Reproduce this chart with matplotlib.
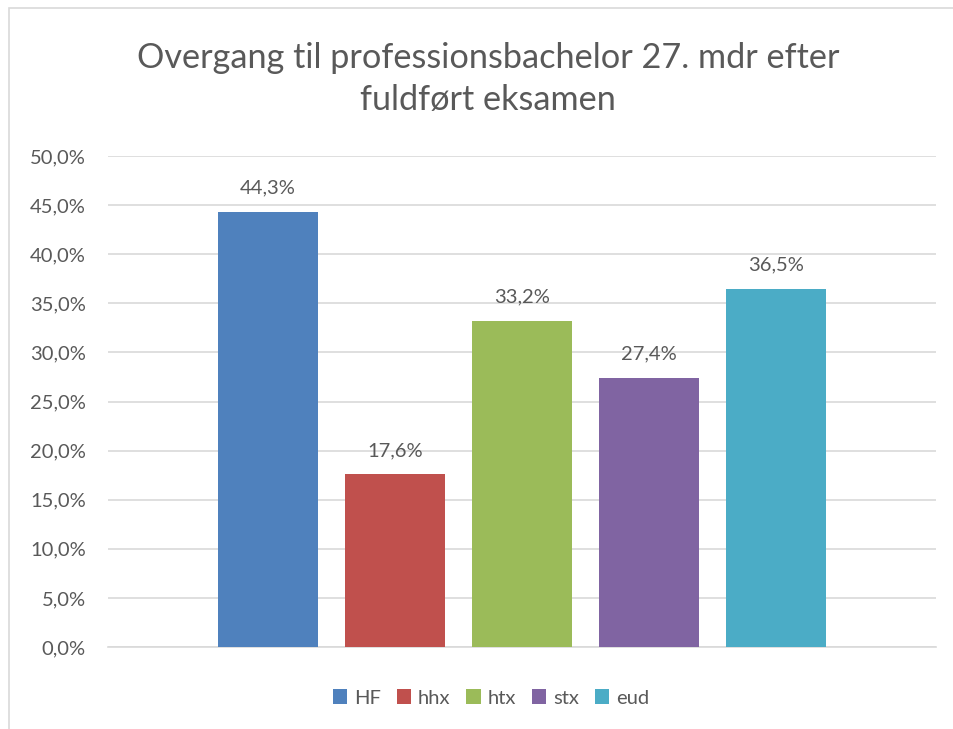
import matplotlib
matplotlib.use("Agg")
import matplotlib.pyplot as plt
from matplotlib.patches import Patch, Rectangle

# Data
categories = ["HF", "hhx", "htx", "stx", "eud"]
values = [44.3, 17.6, 33.2, 27.4, 36.5]
colors = ["#4F81BD", "#C0504D", "#9BBB59", "#8064A2", "#4BACC6"]
yticks = [0, 5, 10, 15, 20, 25, 30, 35, 40, 45, 50]

TEXT = "#595959"
plt.rcParams["font.family"] = ["Lato", "DejaVu Sans"]

W, H = 954, 729
fig = plt.figure(figsize=(W / 100, H / 100), dpi=100)
ax = fig.add_axes([108 / W, (H - 647) / H, (936 - 108) / W, (647 - 156) / H])

x = list(range(len(categories)))
ax.bar(x, values, width=0.795, color=colors, zorder=3)
for xi, v in zip(x, values):
    ax.annotate(f"{v:.1f}%".replace(".", ","), (xi, v), xytext=(0, 11),
                textcoords="offset points", ha="center", va="bottom",
                fontsize=14.5, color=TEXT)

ax.set_xlim(-1.26, 5.26)
ax.set_ylim(0, 50)
ax.set_yticks(yticks)
ax.set_yticklabels([f"{t:.1f}%".replace(".", ",") for t in yticks],
                   fontsize=14.5, color=TEXT)
ax.set_xticks([])
ax.tick_params(axis="y", length=0, pad=16)
ax.grid(axis="y", color="#D9D9D9", linewidth=1.2, zorder=0)
for s in ["top", "right", "left"]:
    ax.spines[s].set_visible(False)
ax.spines["bottom"].set_color("#D9D9D9")
ax.spines["bottom"].set_linewidth(1.2)

fig.text(488 / W, 1 - 79 / H, "Overgang til professionsbachelor 27. mdr efter\nfuldført eksamen",
         ha="center", va="center", fontsize=24.7, color=TEXT, linespacing=1.4)

handles = [Patch(facecolor=c) for c in colors]
fig.legend(handles, categories, loc="center", bbox_to_anchor=(491 / W, 1 - 698 / H),
           ncol=5, frameon=False, fontsize=14.5, labelcolor=TEXT,
           handlelength=0.7, handleheight=0.7, handletextpad=0.35, columnspacing=0.8)

# chart border (top and left visible, rest cropped)
fig.patches.append(Rectangle((9 / W, -0.1), 1.2, (H - 8) / H + 0.1,
                             transform=fig.transFigure, fill=False,
                             edgecolor="#D9D9D9", linewidth=1.2))

fig.savefig("out.png", dpi=100)
